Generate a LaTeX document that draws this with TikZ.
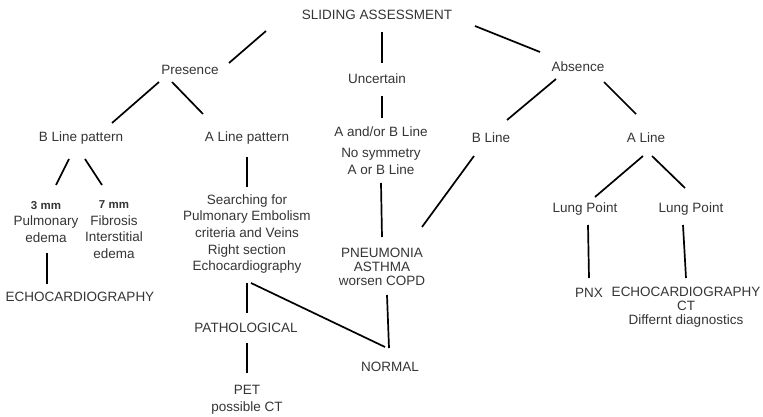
\documentclass[tikz,border=0pt]{standalone}
\usepackage{fontspec}
\setmainfont{Liberation Sans}
\definecolor{txt}{HTML}{353535}
\begin{document}
\begin{tikzpicture}[x=1pt,y=-1pt,
  lbl/.style={inner sep=0pt,align=center,text=txt,font=\fontsize{13.5}{16.6}\selectfont},
  tight/.style={font=\fontsize{13.5}{14}\selectfont},
  conn/.style={line width=1.7pt,black}]
\useasboundingbox[fill=white] (0,0) rectangle (763,417);
\node[lbl] (sa) at (377,15) {SLIDING ASSESSMENT};
\node[lbl] (pres) at (190,70) {Presence};
\node[lbl] (unc) at (377,79) {Uncertain};
\node[lbl] (abs) at (578,67) {Absence};
\node[lbl] (blp) at (81,138) {B Line pattern};
\node[lbl] (alp) at (247,138) {A Line pattern};
\node[lbl] (aob) at (381,132) {A and/or B Line};
\node[lbl] (nosym) at (381,161.5) {No symmetry\\A or B Line};
\node[lbl] (bl) at (491,138) {B Line};
\node[lbl] (al) at (646,138) {A Line};
\node[lbl] (mm3) at (46,222) {{\bfseries\fontsize{11.5}{14}\selectfont 3 mm}\\Pulmonary\\edema};
\node[lbl] (mm7) at (114,229.5) {{\bfseries\fontsize{11.5}{14}\selectfont 7 mm}\\Fibrosis\\Interstitial\\edema};
\node[lbl] (echo1) at (80,297) {ECHOCARDIOGRAPHY};
\node[lbl] (search) at (247,234) {Searching for\\Pulmonary Embolism\\criteria and Veins\\Right section\\Echocardiography};
\node[lbl] (path) at (246,328) {PATHOLOGICAL};
\node[lbl] (pet) at (247,400) {PET\\possible CT};
\node[lbl,tight] (pneu) at (382,267) {PNEUMONIA\\ASTHMA\\worsen COPD};
\node[lbl] (normal) at (390,367) {NORMAL};
\node[lbl] (lpl) at (585,209) {Lung Point};
\node[lbl] (lpr) at (691,209) {Lung Point};
\node[lbl] (pnx) at (589,293) {PNX};
\node[lbl,tight] (echo2) at (686,307) {ECHOCARDIOGRAPHY\\CT\\Differnt diagnostics};
% connectors
\draw[conn] ([shift={(-111,16)}]sa.center) -- ([shift={(39,-7)}]pres.center);
\draw[conn] ([shift={(5,17)}]sa.center) -- ([shift={(5,-16)}]unc.center);
\draw[conn] ([shift={(98,11)}]sa.center) -- ([shift={(-38,-15)}]abs.center);
\draw[conn] ([shift={(-31,12)}]pres.center) -- ([shift={(31,-15)}]blp.center);
\draw[conn] ([shift={(-18,12)}]pres.center) -- ([shift={(-44,-24)}]alp.center);
\draw[conn] ([shift={(5,17)}]unc.center) -- ([shift={(1,-14)}]aob.center);
\draw[conn] ([shift={(-22,12)}]abs.center) -- ([shift={(16,-18)}]bl.center);
\draw[conn] ([shift={(26,15)}]abs.center) -- ([shift={(-10,-24)}]al.center);
\draw[conn] ([shift={(-12,21)}]blp.center) -- ([shift={(10,-37)}]mm3.center);
\draw[conn] ([shift={(4,21)}]blp.center) -- ([shift={(-12,-44.5)}]mm7.center);
\draw[conn] ([shift={(1,31)}]mm3.center) -- ([shift={(-33,-13)}]echo1.center);
\draw[conn] ([shift={(0,19)}]alp.center) -- ([shift={(0,-47)}]search.center);
\draw[conn] ([shift={(0,49)}]search.center) -- ([shift={(1,-15)}]path.center);
\draw[conn] ([shift={(4,49)}]search.center) -- ([shift={(-5,-20)}]normal.center);
\draw[conn] ([shift={(1,15)}]path.center) -- ([shift={(0,-27)}]pet.center);
\draw[conn] ([shift={(0,21.5)}]nosym.center) -- ([shift={(0,-30)}]pneu.center);
\draw[conn] ([shift={(5,28)}]pneu.center) -- ([shift={(-1,-19)}]normal.center);
\draw[conn] ([shift={(-17,18)}]bl.center) -- ([shift={(40,-40)}]pneu.center);
\draw[conn] ([shift={(-3,18)}]al.center) -- ([shift={(10,-12)}]lpl.center);
\draw[conn] ([shift={(6,18)}]al.center) -- ([shift={(-6,-21)}]lpr.center);
\draw[conn] ([shift={(3,16)}]lpl.center) -- ([shift={(0,-15)}]pnx.center);
\draw[conn] ([shift={(-8,16)}]lpr.center) -- ([shift={(0,-29)}]echo2.center);
\end{tikzpicture}
\end{document}
